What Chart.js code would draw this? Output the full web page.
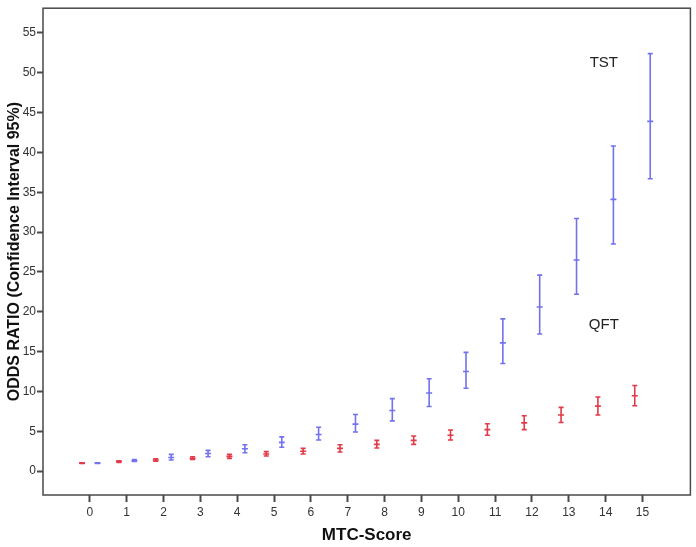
<!DOCTYPE html>
<html>
<head>
<meta charset="utf-8">
<script src="https://cdn.jsdelivr.net/npm/chart.js@4.4.1/dist/chart.umd.min.js"></script>
<style>
  html, body { margin: 0; padding: 0; background: #fff; }
</style>
</head>
<body>
<canvas id="chart" width="696" height="547"></canvas>
<script>
// Datos del gráfico
const scores = [0, 1, 2, 3, 4, 5, 6, 7, 8, 9, 10, 11, 12, 13, 14, 15];

const tstOR   = [1.0, 1.3, 1.7, 2.2, 2.8, 3.6, 4.6, 5.9, 7.6, 9.8, 12.5, 16.1, 20.6, 26.5, 34.1, 43.9];
const tstLow  = [0.95, 1.2, 1.4, 1.8, 2.3, 3.0, 3.9, 4.9, 6.3, 8.1, 10.4, 13.5, 17.2, 22.2, 28.5, 36.7];
const tstHigh = [1.05, 1.45, 2.1, 2.6, 3.3, 4.3, 5.5, 7.1, 9.1, 11.6, 14.9, 19.1, 24.6, 31.7, 40.8, 52.4];

const qftOR   = [1.0, 1.2, 1.4, 1.6, 1.85, 2.15, 2.5, 2.85, 3.35, 3.85, 4.5, 5.2, 6.05, 7.05, 8.15, 9.45];
const qftLow  = [0.95, 1.1, 1.25, 1.45, 1.6, 1.9, 2.15, 2.4, 2.9, 3.35, 3.9, 4.5, 5.2, 6.1, 7.05, 8.2];
const qftHigh = [1.05, 1.3, 1.55, 1.8, 2.1, 2.45, 2.85, 3.3, 3.85, 4.4, 5.15, 5.95, 6.95, 8.0, 9.3, 10.75];

const xTicks = [0, 1, 2, 3, 4, 5, 6, 7, 8, 9, 10, 11, 12, 13, 14, 15];
const yTicks = [0, 5, 10, 15, 20, 25, 30, 35, 40, 45, 50, 55];

const seriesNames = ['TST', 'QFT'];

const FONT = "'Liberation Sans', Arial, sans-serif";
const BLUE = '#7272ee';
const RED = '#e23a48';
const AXIS = '#4a4a4a';
const DODGE = 0.21;

// Intervalos de confianza (barras de error)
const errorBarPlugin = {
    id: 'errorBars',
    afterDatasetsDraw(chart) {
        const ctx = chart.ctx;
        const yScale = chart.scales.y;
        chart.data.datasets.forEach((ds, i) => {
            const meta = chart.getDatasetMeta(i);
            ctx.save();
            ctx.strokeStyle = ds.borderColor;
            ctx.lineWidth = 1.6;
            meta.data.forEach((pt, j) => {
                const x = pt.x;
                const yLo = yScale.getPixelForValue(ds.low[j]);
                const yHi = yScale.getPixelForValue(ds.high[j]);
                ctx.beginPath();
                ctx.moveTo(x, yLo);
                ctx.lineTo(x, yHi);
                ctx.moveTo(x - 2.5, yLo);
                ctx.lineTo(x + 2.5, yLo);
                ctx.moveTo(x - 2.5, yHi);
                ctx.lineTo(x + 2.5, yHi);
                ctx.stroke();
            });
            ctx.restore();
        });
    }
};

// Marco del área del gráfico y etiquetas de serie
const framePlugin = {
    id: 'frame',
    afterDraw(chart, args, opts) {
        const { ctx, chartArea: a, scales } = chart;
        ctx.save();
        ctx.strokeStyle = AXIS;
        ctx.lineWidth = 1.5;
        ctx.strokeRect(a.left, a.top, a.right - a.left, a.bottom - a.top);
        ctx.fillStyle = '#222';
        ctx.font = '15px ' + FONT;
        ctx.textAlign = 'center';
        ctx.textBaseline = 'middle';
        opts.labels.forEach(l => {
            ctx.fillText(l.text, scales.x.getPixelForValue(l.x), scales.y.getPixelForValue(l.y));
        });
        ctx.restore();
    }
};

new Chart(document.getElementById('chart'), {
    type: 'scatter',
    data: {
        datasets: [
            {
                label: seriesNames[0],
                data: scores.map((s, i) => ({ x: s + DODGE, y: tstOR[i] })),
                low: tstLow,
                high: tstHigh,
                borderColor: BLUE,
                backgroundColor: BLUE,
                pointStyle: 'line',
                pointRadius: 3,
                borderWidth: 1.6
            },
            {
                label: seriesNames[1],
                data: scores.map((s, i) => ({ x: s - DODGE, y: qftOR[i] })),
                low: qftLow,
                high: qftHigh,
                borderColor: RED,
                backgroundColor: RED,
                pointStyle: 'line',
                pointRadius: 3,
                borderWidth: 1.6
            }
        ]
    },
    options: {
        responsive: false,
        animation: false,
        devicePixelRatio: 1,
        layout: { padding: { top: 5, right: 5, left: 0, bottom: 0 } },
        plugins: {
            legend: { display: false },
            tooltip: { enabled: false },
            frame: {
                labels: [
                    { text: seriesNames[0], x: 13.95, y: 51.2 },
                    { text: seriesNames[1], x: 13.95, y: 18.3 }
                ]
            }
        },
        scales: {
            x: {
                type: 'linear',
                min: -1.27,
                max: 16.3,
                afterBuildTicks: s => { s.ticks = xTicks.map(v => ({ value: v })); },
                afterFit: s => { s.height = 52; },
                border: { display: false },
                grid: { drawOnChartArea: false, tickLength: 7, tickWidth: 2, tickColor: AXIS },
                ticks: { color: '#333', font: { family: FONT, size: 12 }, padding: 3, maxRotation: 0 },
                title: {
                    display: true,
                    text: 'MTC-Score',
                    color: '#111',
                    font: { family: FONT, size: 17, weight: 'bold' },
                    padding: { top: 0, bottom: 1 }
                }
            },
            y: {
                type: 'linear',
                min: -3,
                max: 58.1,
                afterBuildTicks: s => { s.ticks = yTicks.map(v => ({ value: v })); },
                afterFit: s => { s.width = 43; },
                border: { display: false },
                grid: { drawOnChartArea: false, tickLength: 6, tickWidth: 2, tickColor: AXIS },
                ticks: { color: '#333', font: { family: FONT, size: 12 }, padding: 1 },
                title: {
                    display: true,
                    text: 'ODDS RATIO (Confidence Interval 95%)',
                    color: '#111',
                    font: { family: FONT, size: 16, weight: 'bold' },
                    padding: { top: 5, bottom: 0 }
                }
            }
        }
    },
    plugins: [errorBarPlugin, framePlugin]
});
</script>
</body>
</html>
